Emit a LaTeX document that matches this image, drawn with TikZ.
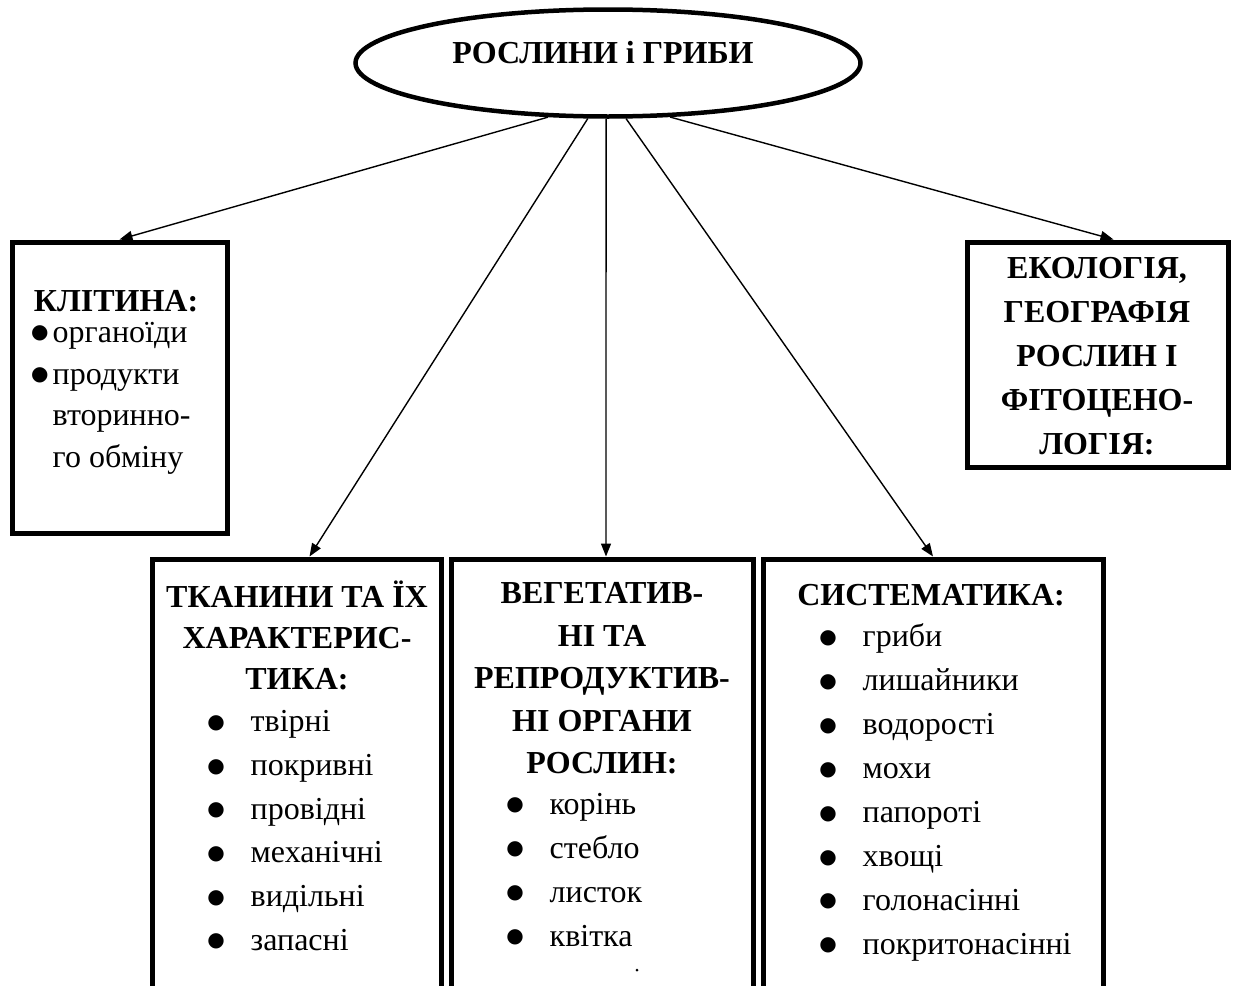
\documentclass[tikz,border=0pt]{standalone}
\usepackage{fontspec}
\setmainfont{Liberation Serif}
\newfontfamily\dotfont{DejaVu Sans}
\usetikzlibrary{shapes.geometric,arrows.meta}
\newcommand{\blt}{\raisebox{3.4pt}{\dotfont\fontsize{20}{20}\selectfont ●}}
\begin{document}
\begin{tikzpicture}[x=1pt,y=-1pt,line width=1.4pt]
\tikzstyle{oval}=[ellipse,draw,line width=4.5pt,minimum width=505pt,minimum height=107pt,inner sep=0pt]
\tikzstyle{box}=[rectangle,draw,line width=5pt,inner sep=0pt,outer sep=2.5pt]
\tikzstyle{hd}=[font=\fontsize{32}{40}\selectfont\bfseries,anchor=base,inner sep=0pt]
\tikzstyle{it}=[font=\fontsize{32}{40}\selectfont,anchor=base west,inner sep=0pt]
\tikzstyle{link}=[-{Triangle[length=13pt,width=10pt]}]
\useasboundingbox (0,0) rectangle (1239,985);
\clip (0,0) rectangle (1239,985);
% root
\node[oval] (root) at (608,63) {};
\node[hd] (roottxt) at (603,63) {РОСЛИНИ і ГРИБИ};
% boxes
\node[box,minimum width=215pt,minimum height=291pt] (cell) at (119.5,387.5) {};
\node[box,minimum width=261pt,minimum height=225pt] (eco) at (1097.5,354.5) {};
\node[box,minimum width=289pt,minimum height=500pt] (tkan) at (296.5,809) {};
\node[box,minimum width=302pt,minimum height=500pt] (veg) at (602,809) {};
\node[box,minimum width=340pt,minimum height=500pt] (sys) at (933,809) {};
% cell
\node[hd] (cell-h) at (116,311) {КЛІТИНА:};
\node[it] (cell-i1) at (52,342) {\llap{\blt\hspace{4pt}}органоїди};
\node[it] (cell-i2) at (52,384) {\llap{\blt\hspace{4pt}}продукти};
\node[it] (cell-i3) at (52,425) {вторинно-};
\node[it] (cell-i4) at (52,467) {го обміну};
% ecology
\foreach \t [count=\i] in {{ЕКОЛОГІЯ,},ГЕОГРАФІЯ,РОСЛИН І,ФІТОЦЕНО-,ЛОГІЯ:}
  \node[hd] (eco-h\i) at (1097,234+44*\i) {\t};
% tissues
\foreach \t [count=\i] in {ТКАНИНИ ТА ЇХ,ХАРАКТЕРИС-,ТИКА:}
  \node[hd] (tkan-h\i) at (297,566+41*\i) {\t};
\foreach \t [count=\i] in {твірні,покривні,провідні,механічні,видільні,запасні}
  \node[it] (tkan-i\i) at (250,688+43.7*\i) {\llap{\blt\hspace{26pt}}\t};
% organs
\foreach \t [count=\i] in {ВЕГЕТАТИВ-,НІ ТА,РЕПРОДУКТИВ-,НІ ОРГАНИ,РОСЛИН:}
  \node[hd] (veg-h\i) at (602,561+42.5*\i) {\t};
\foreach \t [count=\i] in {корінь,стебло,листок,квітка}
  \node[it] (veg-i\i) at (549,770+44*\i) {\llap{\blt\hspace{26pt}}\t};
\fill (637,970) circle (1.5pt);
% systematics
\node[hd] (sys-h) at (931,605) {СИСТЕМАТИКА:};
\foreach \t [count=\i] in {гриби,лишайники,водорості,мохи,папороті,хвощі,голонасінні,покритонасінні}
  \node[it] (sys-i\i) at (862,603+43.9*\i) {\llap{\blt\hspace{26pt}}\t};
% links
\draw[link] (root.222) -- (cell.north);
\draw[link] (root.250) -- ([xshift=13pt]tkan.north);
\draw[link] (root.268) -- ([xshift=4pt]veg.north);
\draw[link] (root.288) -- (sys.north);
\draw[link] (root.319) -- ([xshift=16pt]eco.north);
\end{tikzpicture}
\end{document}
